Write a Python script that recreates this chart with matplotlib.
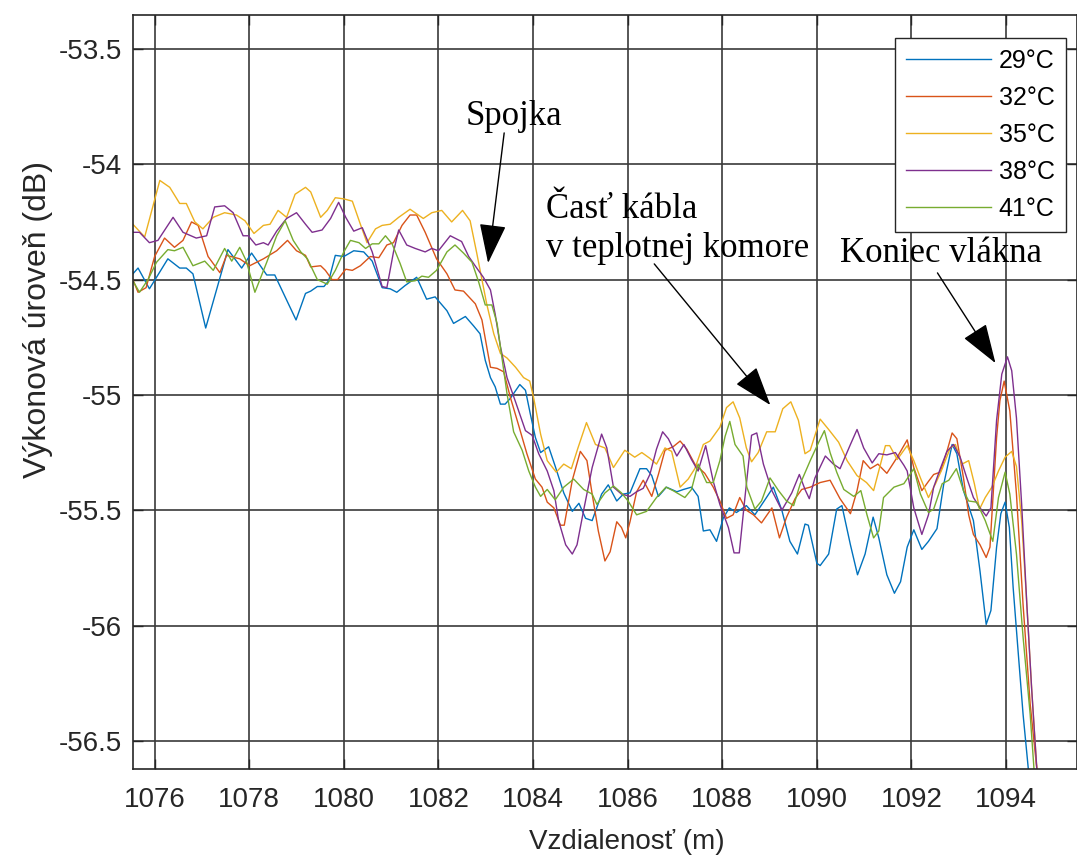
import matplotlib.pyplot as plt
from matplotlib.ticker import FormatStrFormatter

plt.rcParams['font.family'] = ['Liberation Sans', 'DejaVu Sans']
plt.rcParams['axes.unicode_minus'] = False

# distance (m) and power level (dB) for each temperature
dist_29 = [1075.54, 1075.65, 1075.89, 1076.28, 1076.53, 1076.67, 1076.81, 1077.08, 1077.55, 1077.84,
           1078.05, 1078.37, 1078.54, 1078.99, 1079.19, 1079.30, 1079.44, 1079.58, 1079.68, 1079.82,
           1080.00, 1080.21, 1080.42, 1080.60, 1080.81, 1080.98, 1081.12, 1081.30, 1081.54, 1081.75,
           1081.93, 1082.18, 1082.32, 1082.57, 1082.74, 1082.88, 1082.99, 1083.10, 1083.20, 1083.31,
           1083.41, 1083.52, 1083.72, 1083.84, 1083.94, 1084.05, 1084.16, 1084.33, 1084.47, 1084.65,
           1084.83, 1084.97, 1085.11, 1085.25, 1085.45, 1085.59, 1085.77, 1085.91, 1086.05, 1086.26,
           1086.40, 1086.51, 1086.65, 1086.82, 1087.04, 1087.18, 1087.35, 1087.49, 1087.60, 1087.74,
           1087.88, 1088.02, 1088.15, 1088.30, 1088.51, 1088.69, 1088.87, 1089.08, 1089.26, 1089.43,
           1089.59, 1089.75, 1089.82, 1090.00, 1090.07, 1090.25, 1090.42, 1090.53, 1090.71, 1090.86,
           1091.02, 1091.19, 1091.31, 1091.48, 1091.64, 1091.77, 1091.91, 1092.05, 1092.22, 1092.36,
           1092.54, 1092.68, 1092.86, 1092.96, 1093.10, 1093.31, 1093.45, 1093.58, 1093.68, 1093.80,
           1093.89, 1093.98, 1094.07, 1094.15, 1094.26, 1094.36, 1094.47, 1094.52]
pwr_29 = [-54.475, -54.45, -54.54, -54.41, -54.45, -54.45, -54.475, -54.71, -54.37, -54.45,
          -54.385, -54.48, -54.48, -54.675, -54.56, -54.55, -54.53, -54.53, -54.505, -54.395,
          -54.40, -54.375, -54.38, -54.42, -54.535, -54.54, -54.555, -54.525, -54.49, -54.585,
          -54.575, -54.635, -54.69, -54.66, -54.70, -54.735, -54.85, -54.925, -54.965, -55.04,
          -55.04, -55.015, -54.955, -54.98, -55.08, -55.185, -55.25, -55.225, -55.31, -55.425,
          -55.505, -55.47, -55.535, -55.545, -55.43, -55.39, -55.46, -55.43, -55.425, -55.32,
          -55.32, -55.35, -55.44, -55.40, -55.42, -55.41, -55.40, -55.44, -55.59, -55.585,
          -55.635, -55.535, -55.49, -55.51, -55.48, -55.52, -55.465, -55.40, -55.50, -55.635,
          -55.69, -55.56, -55.565, -55.73, -55.74, -55.69, -55.495, -55.48, -55.65, -55.78,
          -55.69, -55.53, -55.62, -55.78, -55.86, -55.81, -55.66, -55.585, -55.67, -55.635,
          -55.58, -55.39, -55.215, -55.255, -55.415, -55.545, -55.765, -55.995, -55.935, -55.66,
          -55.515, -55.465, -55.575, -55.835, -56.125, -56.385, -56.62, -56.75]

dist_32 = [1075.54, 1075.65, 1075.82, 1076.00, 1076.21, 1076.42, 1076.60, 1076.78, 1076.92, 1077.13,
           1077.38, 1077.52, 1077.80, 1078.01, 1078.30, 1078.58, 1078.81, 1079.00, 1079.19, 1079.30,
           1079.51, 1079.61, 1079.75, 1079.87, 1080.04, 1080.18, 1080.35, 1080.56, 1080.74, 1080.91,
           1081.05, 1081.23, 1081.40, 1081.54, 1081.72, 1081.96, 1082.18, 1082.35, 1082.53, 1082.78,
           1082.92, 1083.02, 1083.10, 1083.24, 1083.38, 1083.52, 1083.70, 1083.87, 1084.05, 1084.19,
           1084.30, 1084.44, 1084.58, 1084.66, 1084.83, 1085.00, 1085.14, 1085.25, 1085.38, 1085.52,
           1085.63, 1085.77, 1085.87, 1085.96, 1086.05, 1086.19, 1086.33, 1086.51, 1086.65, 1086.79,
           1086.96, 1087.11, 1087.25, 1087.42, 1087.63, 1087.81, 1087.95, 1088.09, 1088.23, 1088.37,
           1088.51, 1088.66, 1088.83, 1089.05, 1089.21, 1089.36, 1089.54, 1089.68, 1089.86, 1090.07,
           1090.28, 1090.49, 1090.71, 1090.85, 1090.98, 1091.13, 1091.29, 1091.48, 1091.70, 1091.91,
           1092.05, 1092.22, 1092.36, 1092.47, 1092.61, 1092.75, 1092.86, 1092.96, 1093.10, 1093.21,
           1093.31, 1093.45, 1093.58, 1093.66, 1093.80, 1093.87, 1093.96, 1094.08, 1094.22, 1094.36,
           1094.51, 1094.65, 1094.70]
pwr_32 = [-54.50, -54.555, -54.535, -54.40, -54.32, -54.36, -54.33, -54.25, -54.265, -54.40,
          -54.47, -54.395, -54.41, -54.44, -54.41, -54.375, -54.33, -54.375, -54.395, -54.445,
          -54.44, -54.46, -54.50, -54.50, -54.455, -54.46, -54.44, -54.40, -54.405, -54.35,
          -54.34, -54.265, -54.22, -54.22, -54.295, -54.41, -54.475, -54.545, -54.55, -54.605,
          -54.675, -54.79, -54.88, -54.885, -54.90, -55.01, -55.135, -55.255, -55.365, -55.40,
          -55.465, -55.49, -55.565, -55.565, -55.37, -55.245, -55.285, -55.43, -55.59, -55.72,
          -55.68, -55.55, -55.575, -55.62, -55.55, -55.42, -55.37, -55.44, -55.345, -55.24,
          -55.225, -55.20, -55.235, -55.30, -55.34, -55.40, -55.46, -55.535, -55.52, -55.445,
          -55.50, -55.52, -55.555, -55.49, -55.62, -55.53, -55.45, -55.41, -55.40, -55.38,
          -55.37, -55.45, -55.515, -55.415, -55.285, -55.32, -55.30, -55.34, -55.27, -55.195,
          -55.315, -55.415, -55.375, -55.345, -55.335, -55.245, -55.165, -55.19, -55.36, -55.52,
          -55.605, -55.65, -55.705, -55.66, -55.185, -55.025, -54.94, -55.07, -55.43, -55.91,
          -56.34, -56.62, -56.75]

dist_35 = [1075.54, 1075.79, 1075.96, 1076.11, 1076.32, 1076.53, 1076.67, 1076.85, 1077.02, 1077.24,
           1077.48, 1077.73, 1077.91, 1078.10, 1078.30, 1078.44, 1078.61, 1078.79, 1078.97, 1079.19,
           1079.30, 1079.51, 1079.65, 1079.82, 1080.00, 1080.18, 1080.35, 1080.49, 1080.67, 1080.81,
           1080.98, 1081.16, 1081.40, 1081.68, 1081.86, 1082.07, 1082.28, 1082.51, 1082.67, 1082.81,
           1083.02, 1083.17, 1083.31, 1083.45, 1083.63, 1083.80, 1083.93, 1084.01, 1084.16, 1084.30,
           1084.49, 1084.65, 1084.81, 1084.95, 1085.13, 1085.32, 1085.52, 1085.70, 1085.94, 1086.15,
           1086.30, 1086.47, 1086.61, 1086.79, 1086.93, 1087.11, 1087.28, 1087.42, 1087.60, 1087.74,
           1087.95, 1088.09, 1088.23, 1088.37, 1088.51, 1088.62, 1088.76, 1088.94, 1089.12, 1089.28,
           1089.45, 1089.61, 1089.75, 1089.86, 1090.07, 1090.25, 1090.46, 1090.64, 1090.85, 1091.05,
           1091.20, 1091.34, 1091.45, 1091.54, 1091.70, 1091.91, 1092.05, 1092.19, 1092.36, 1092.51,
           1092.65, 1092.82, 1092.93, 1093.07, 1093.21, 1093.33, 1093.44, 1093.56, 1093.70, 1093.84,
           1093.98, 1094.12, 1094.22, 1094.33, 1094.44, 1094.54, 1094.65, 1094.69]
pwr_35 = [-54.26, -54.315, -54.185, -54.07, -54.10, -54.17, -54.17, -54.25, -54.28, -54.23,
          -54.21, -54.22, -54.245, -54.30, -54.265, -54.26, -54.20, -54.23, -54.13, -54.10,
          -54.12, -54.23, -54.20, -54.145, -54.15, -54.16, -54.26, -54.34, -54.28, -54.265,
          -54.26, -54.23, -54.195, -54.235, -54.21, -54.20, -54.25, -54.20, -54.245, -54.385,
          -54.605, -54.735, -54.82, -54.84, -54.88, -54.925, -54.94, -55.01, -55.17, -55.285,
          -55.335, -55.30, -55.32, -55.23, -55.12, -55.215, -55.23, -55.315, -55.24, -55.27,
          -55.25, -55.275, -55.30, -55.23, -55.245, -55.40, -55.365, -55.32, -55.215, -55.20,
          -55.14, -55.055, -55.03, -55.10, -55.23, -55.29, -55.25, -55.16, -55.16, -55.06,
          -55.03, -55.11, -55.255, -55.24, -55.105, -55.15, -55.205, -55.285, -55.35, -55.38,
          -55.415, -55.305, -55.22, -55.22, -55.28, -55.22, -55.285, -55.36, -55.445, -55.385,
          -55.32, -55.23, -55.215, -55.30, -55.285, -55.385, -55.495, -55.445, -55.40, -55.33,
          -55.27, -55.245, -55.31, -55.545, -55.91, -56.27, -56.62, -56.75]

dist_38 = [1075.54, 1075.68, 1075.89, 1076.07, 1076.39, 1076.60, 1076.88, 1077.10, 1077.27, 1077.48,
           1077.66, 1077.87, 1077.98, 1078.14, 1078.30, 1078.40, 1078.58, 1078.79, 1079.00, 1079.19,
           1079.33, 1079.54, 1079.72, 1079.89, 1080.04, 1080.21, 1080.39, 1080.60, 1080.81, 1080.91,
           1081.05, 1081.16, 1081.33, 1081.51, 1081.72, 1081.86, 1082.00, 1082.25, 1082.49, 1082.64,
           1082.81, 1082.95, 1083.10, 1083.20, 1083.31, 1083.45, 1083.63, 1083.84, 1083.98, 1084.12,
           1084.30, 1084.44, 1084.54, 1084.69, 1084.83, 1084.93, 1085.07, 1085.25, 1085.45, 1085.56,
           1085.70, 1085.87, 1086.05, 1086.19, 1086.33, 1086.47, 1086.61, 1086.74, 1086.86, 1087.04,
           1087.19, 1087.35, 1087.49, 1087.65, 1087.81, 1087.95, 1088.13, 1088.25, 1088.36, 1088.48,
           1088.62, 1088.73, 1088.87, 1089.05, 1089.26, 1089.47, 1089.63, 1089.75, 1089.84, 1089.96,
           1090.18, 1090.35, 1090.49, 1090.71, 1090.85, 1090.99, 1091.17, 1091.31, 1091.48, 1091.66,
           1091.84, 1091.91, 1092.05, 1092.22, 1092.36, 1092.47, 1092.61, 1092.75, 1092.89, 1093.03,
           1093.17, 1093.31, 1093.45, 1093.58, 1093.68, 1093.80, 1093.91, 1094.03, 1094.12, 1094.22,
           1094.33, 1094.44, 1094.54, 1094.65, 1094.69]
pwr_38 = [-54.295, -54.295, -54.34, -54.33, -54.23, -54.295, -54.32, -54.31, -54.185, -54.18,
          -54.21, -54.31, -54.31, -54.35, -54.34, -54.35, -54.29, -54.235, -54.21, -54.26,
          -54.295, -54.285, -54.235, -54.165, -54.23, -54.29, -54.275, -54.38, -54.53, -54.535,
          -54.38, -54.285, -54.35, -54.365, -54.38, -54.365, -54.375, -54.31, -54.335, -54.40,
          -54.45, -54.49, -54.545, -54.65, -54.79, -54.925, -55.03, -55.155, -55.175, -55.255,
          -55.33, -55.415, -55.545, -55.65, -55.69, -55.65, -55.50, -55.315, -55.17, -55.23,
          -55.40, -55.43, -55.44, -55.42, -55.405, -55.345, -55.235, -55.16, -55.19, -55.265,
          -55.215, -55.28, -55.33, -55.22, -55.375, -55.475, -55.575, -55.685, -55.685, -55.445,
          -55.175, -55.165, -55.30, -55.415, -55.50, -55.425, -55.345, -55.41, -55.45, -55.36,
          -55.265, -55.30, -55.32, -55.215, -55.15, -55.23, -55.295, -55.255, -55.26, -55.25,
          -55.305, -55.33, -55.49, -55.605, -55.52, -55.40, -55.32, -55.245, -55.215, -55.27,
          -55.36, -55.445, -55.49, -55.525, -55.49, -55.11, -54.91, -54.835, -54.895, -55.10,
          -55.475, -55.91, -56.27, -56.62, -56.75]

dist_41 = [1075.54, 1075.68, 1075.86, 1076.04, 1076.28, 1076.42, 1076.60, 1076.81, 1077.06, 1077.24,
           1077.48, 1077.63, 1077.80, 1077.94, 1078.12, 1078.37, 1078.58, 1078.76, 1078.93, 1079.09,
           1079.23, 1079.44, 1079.65, 1079.82, 1080.00, 1080.14, 1080.32, 1080.46, 1080.60, 1080.74,
           1080.88, 1081.02, 1081.19, 1081.33, 1081.51, 1081.65, 1081.79, 1081.96, 1082.18, 1082.35,
           1082.53, 1082.71, 1082.85, 1082.99, 1083.13, 1083.24, 1083.34, 1083.45, 1083.59, 1083.77,
           1083.91, 1084.05, 1084.16, 1084.30, 1084.47, 1084.65, 1084.86, 1085.07, 1085.25, 1085.35,
           1085.52, 1085.70, 1085.87, 1086.01, 1086.19, 1086.40, 1086.61, 1086.81, 1086.96, 1087.21,
           1087.35, 1087.49, 1087.67, 1087.81, 1087.95, 1088.06, 1088.16, 1088.27, 1088.44, 1088.52,
           1088.69, 1088.83, 1089.01, 1089.19, 1089.36, 1089.51, 1089.65, 1089.86, 1090.04, 1090.16,
           1090.28, 1090.42, 1090.57, 1090.78, 1090.93, 1091.06, 1091.20, 1091.31, 1091.41, 1091.63,
           1091.84, 1092.05, 1092.19, 1092.36, 1092.47, 1092.65, 1092.79, 1092.95, 1093.10, 1093.21,
           1093.38, 1093.56, 1093.72, 1093.84, 1093.98, 1094.08, 1094.22, 1094.36, 1094.51, 1094.59,
           1094.63]
pwr_41 = [-54.505, -54.555, -54.50, -54.425, -54.37, -54.375, -54.36, -54.44, -54.42, -54.46,
          -54.365, -54.42, -54.36, -54.42, -54.555, -54.425, -54.31, -54.245, -54.33, -54.38,
          -54.41, -54.50, -54.52, -54.46, -54.38, -54.33, -54.34, -54.365, -54.345, -54.345,
          -54.31, -54.345, -54.43, -54.51, -54.505, -54.485, -54.49, -54.46, -54.38, -54.35,
          -54.385, -54.425, -54.51, -54.61, -54.61, -54.69, -54.835, -54.995, -55.16, -55.24,
          -55.33, -55.40, -55.44, -55.41, -55.455, -55.40, -55.365, -55.41, -55.43, -55.475,
          -55.425, -55.395, -55.425, -55.46, -55.52, -55.505, -55.445, -55.40, -55.415, -55.445,
          -55.41, -55.30, -55.38, -55.38, -55.285, -55.18, -55.115, -55.215, -55.265, -55.40,
          -55.495, -55.46, -55.36, -55.415, -55.46, -55.48, -55.385, -55.285, -55.205, -55.155,
          -55.25, -55.335, -55.41, -55.44, -55.415, -55.52, -55.62, -55.59, -55.445, -55.40,
          -55.385, -55.32, -55.43, -55.51, -55.495, -55.385, -55.37, -55.32, -55.415, -55.46,
          -55.465, -55.545, -55.635, -55.445, -55.335, -55.43, -55.69, -56.05, -56.385, -56.62,
          -56.75]

series = [
    (dist_29, pwr_29, '29°C', '#0072BD'),
    (dist_32, pwr_32, '32°C', '#D95319'),
    (dist_35, pwr_35, '35°C', '#EDB120'),
    (dist_38, pwr_38, '38°C', '#7E2F8E'),
    (dist_41, pwr_41, '41°C', '#77AC30'),
]

x_ticks = [1076, 1078, 1080, 1082, 1084, 1086, 1088, 1090, 1092, 1094]
y_ticks = [-53.5, -54, -54.5, -55, -55.5, -56, -56.5]

fig = plt.figure(figsize=(10.77, 8.59), dpi=100)
ax = fig.add_axes([0.1238, 0.1048, 0.8762, 0.8774])

for d, p, lab, col in series:
    ax.plot(d, p, color=col, lw=1.0, label=lab)

ax.set_xlim(1075.55, 1095.5)
ax.set_ylim(-56.622, -53.354)
ax.set_xticks(x_ticks)
ax.set_yticks(y_ticks)
ax.yaxis.set_major_formatter(FormatStrFormatter('%g'))
ax.grid(True, color='#3a3a3a', lw=1.2)
ax.set_axisbelow(True)
ax.tick_params(direction='in', length=7, width=1, labelsize=20, colors='#262626',
               top=True, right=True)
ax.tick_params(axis='y', pad=8)
ax.tick_params(axis='x', pad=13)
for s in ax.spines.values():
    s.set_color('#262626')
    s.set_linewidth(1.2)

ax.set_xlabel('Vzdialenosť (m)', fontsize=20, color='#262626')
ax.set_ylabel('Výkonová úroveň (dB)', fontsize=23, color='#262626')
ax.xaxis.set_label_coords(0.523, -0.080)
ax.yaxis.set_label_coords(-0.085, 0.596)

leg = ax.legend(loc='upper right', bbox_to_anchor=(0.9884, 0.9699), borderaxespad=0,
                fontsize=18, handlelength=3.4, handletextpad=0.3, labelspacing=0.52,
                borderpad=0.45, fancybox=False, framealpha=1, edgecolor='#262626')
leg.get_frame().set_linewidth(1.0)

serif = ['Liberation Serif', 'DejaVu Serif']
arrow_kw = dict(arrowstyle='-|>,head_length=2.5,head_width=0.85', color='black',
                lw=1.0, shrinkA=0, shrinkB=0)

ax.text(1082.565, -53.83, 'Spojka', family=serif, fontsize=25, ha='left', va='baseline')
ax.annotate('', xy=(1083.05, -54.428), xytext=(1083.39, -53.864), arrowprops=arrow_kw)

ax.text(1084.28, -54.233, 'Časť kábla', family=serif, fontsize=25, ha='left', va='baseline')
ax.text(1084.28, -54.402, 'v teplotnej komore', family=serif, fontsize=25, ha='left', va='baseline')
ax.annotate('', xy=(1089.017, -55.044), xytext=(1086.563, -54.432), arrowprops=arrow_kw)

ax.text(1090.497, -54.424, 'Koniec vlákna', family=serif, fontsize=25, ha='left', va='baseline')
ax.annotate('', xy=(1093.776, -54.862), xytext=(1092.55, -54.471), arrowprops=arrow_kw)

fig.savefig('out.png', dpi=100)
